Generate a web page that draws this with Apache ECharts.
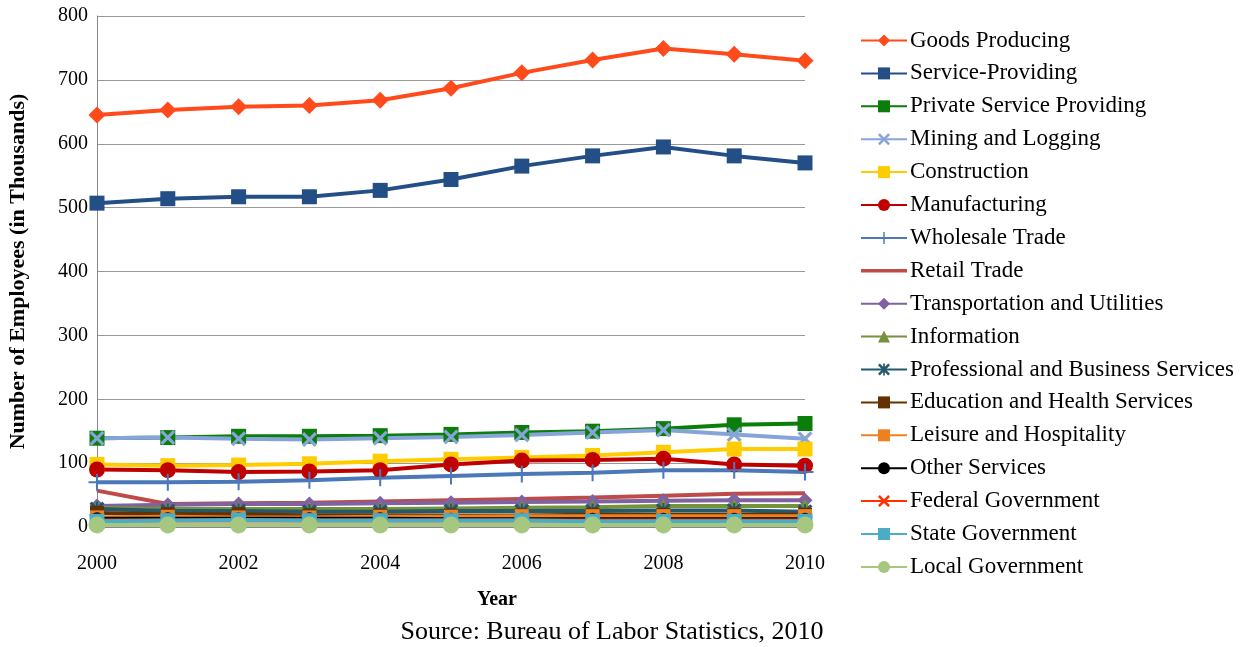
<!DOCTYPE html>
<html><head><meta charset="utf-8">
<script src="https://cdn.jsdelivr.net/npm/echarts@6/dist/echarts.min.js"></script>
<style>html,body{margin:0;padding:0;background:#fff}#c{width:1244px;height:647px}</style>
</head><body><div id="c"></div>
<script>
const years = ['2000','2001','2002','2003','2004','2005','2006','2007','2008','2009','2010'];
const yTicks = [0,100,200,300,400,500,600,700,800];
const goodsProducing = [645,653,658,660,668,687,711,731,749,740,730];
const serviceProviding = [507,514,517,517,527,544,565,581,595,581,570];
const privateService = [139,140,142,142,143,145,148,150,154,160,162];
const miningLogging = [139,140,138,137,139,141,144,148,152,145,138];
const construction = [98,96,97,99,103,106,109,112,117,122,122];
const manufacturing = [90,89,86,87,89,98,104,105,107,98,96];
const wholesaleTrade = [70,70,71,73,77,80,83,85,89,89,86];
const retailTrade = [57,36,37,38,40,42,44,46,49,52,53];
const transportation = [33,35,36,36,37,38,39,40,41,42,42];
const information = [30,28,28,28,28,29,30,31,33,33,33];
const professional = [28,25,25,24,24,25,25,25,26,26,24];
const education = [22,20,20,18,18,18,18,19,19,19,19];
const leisure = [15,16,15,15,16,16,17,17,17,17,17];
const otherServices = [13,13,13,13,13,12,12,12,12,12,12];
const federalGov = [10,10,10,10,10,10,10,10,10,10,10];
const stateGov = [9,10,11,10,10,10,10,9,9,9,9];
const localGov = [3,3,3,3,3,3,3,3,3,3,3];

const X = 'path://M0,1.5L1.5,0L5,3.5L8.5,0L10,1.5L6.5,5L10,8.5L8.5,10L5,6.5L1.5,10L0,8.5L3.5,5Z';
const STAR = 'path://M0,1.5L1.5,0L5,3.5L8.5,0L10,1.5L6.5,5L10,8.5L8.5,10L5,6.5L1.5,10L0,8.5L3.5,5Z M4.3,0H5.7V10H4.3Z';
const PLUS = 'path://M4.4,0H5.6V4.4H10V5.6H5.6V10H4.4V5.6H0V4.4H4.4Z';

const defs = [
  ['Goods Producing', goodsProducing, '#FF4A1C', 'diamond', 17],
  ['Service-Providing', serviceProviding, '#234E86', 'rect', 15],
  ['Private Service Providing', privateService, '#0A7D0A', 'rect', 15],
  ['Mining and Logging', miningLogging, '#86A4D8', X, 15],
  ['Construction', construction, '#FFCC00', 'rect', 15],
  ['Manufacturing', manufacturing, '#C00000', 'circle', 16],
  ['Wholesale Trade', wholesaleTrade, '#4A78B8', PLUS, 17],
  ['Retail Trade', retailTrade, '#BE4B48', 'none', 0],
  ['Transportation and Utilities', transportation, '#7F62A0', 'diamond', 15],
  ['Information', information, '#76923C', 'triangle', 15],
  ['Professional and Business Services', professional, '#23596A', STAR, 15],
  ['Education and Health Services', education, '#643200', 'rect', 14],
  ['Leisure and Hospitality', leisure, '#EE8020', 'rect', 14],
  ['Other Services', otherServices, '#000000', 'circle', 13],
  ['Federal Government', federalGov, '#FF3300', X, 15],
  ['State Government', stateGov, '#4BACC6', 'rect', 15],
  ['Local Government', localGov, '#A6C77F', 'circle', 17]
];

const chart = echarts.init(document.getElementById('c'), null, {renderer:'canvas'});
const font = 'Liberation Serif';
chart.setOption({
  animation:false,
  textStyle:{fontFamily:font},
  grid:{left:97,right:439,top:16,bottom:120,containLabel:false,outerBoundsMode:'none'},
  legend:{
    orient:'vertical', left:860, top:29, padding:0, itemWidth:46, itemHeight:15, itemGap:9.9,
    textStyle:{fontFamily:'Liberation Serif, serif',fontSize:23,color:'#000',padding:[0,0,0,-2]},
    data: defs.map(d=> d[3]==='none'
      ? {name:d[0], icon:'path://M0,0H0.01V0.01H0Z M0,5.8H46V9.2H0Z M46,15H45.99V14.99H46Z'}
      : d[0])
  },
  xAxis:{
    type:'category', data:years, boundaryGap:false,
    axisLine:{show:true,lineStyle:{color:'#888'}},
    axisTick:{show:false},
    axisLabel:{interval:1,fontFamily:font,fontSize:20,color:'#000',margin:27}
  },
  yAxis:{
    type:'value', min:yTicks[0], max:yTicks[yTicks.length-1], interval:100,
    name:'Number of Employees (in Thousands)', nameLocation:'middle', nameGap:68,
    nameTextStyle:{fontFamily:font,fontSize:22,fontWeight:'bold',color:'#000'},
    axisLine:{show:true,lineStyle:{color:'#888'}},
    axisTick:{show:false},
    axisLabel:{fontFamily:font,fontSize:20,color:'#000',margin:9},
    splitLine:{lineStyle:{color:'#999',width:1}}
  },
  graphic:[
    {type:'text',x:497,y:600,style:{text:'Year',font:'bold 20px "Liberation Serif"',fill:'#000',align:'center',verticalAlign:'middle'}},
    {type:'text',x:612,y:632,style:{text:'Source: Bureau of Labor Statistics, 2010',font:'26px "Liberation Serif"',fill:'#000',align:'center',verticalAlign:'middle'}}
  ],
  series: defs.map(d=>({
    name:d[0], type:'line', data:d[1], symbol:d[3], symbolSize:d[4],
    showSymbol:d[3]!=='none',
    lineStyle:{color:d[2],width:4},
    itemStyle:{color:d[2]},
    emphasis:{disabled:true}
  }))
});
</script></body></html>
